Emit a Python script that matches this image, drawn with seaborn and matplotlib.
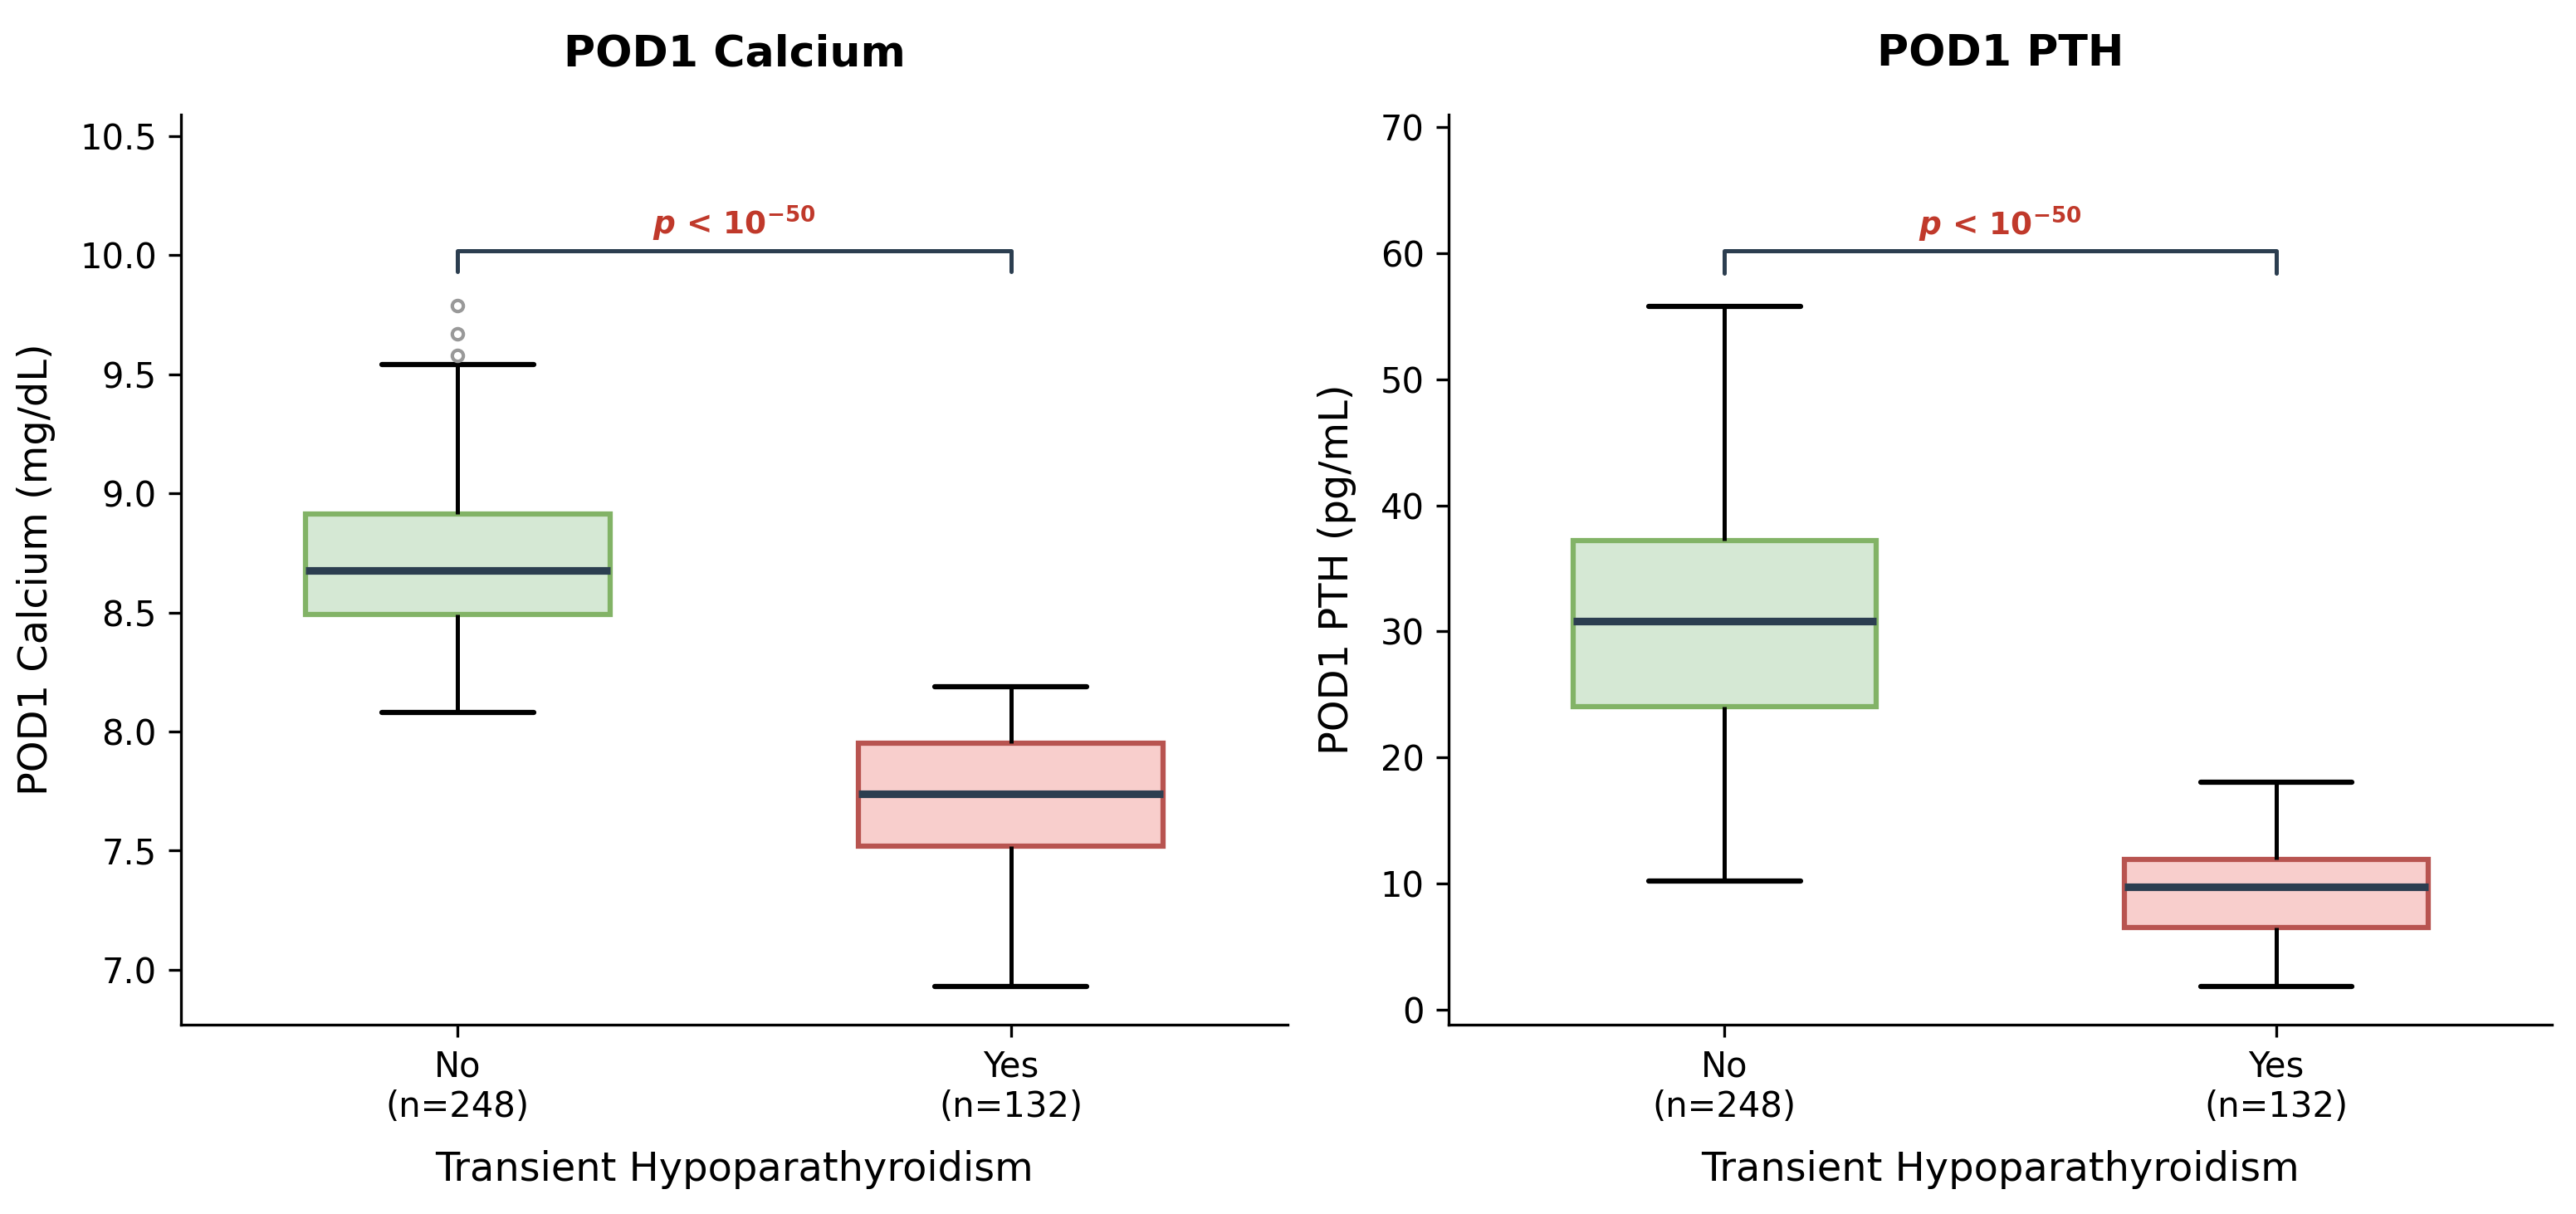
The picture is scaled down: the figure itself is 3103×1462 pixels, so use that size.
import numpy as np
import pandas as pd
import matplotlib.pyplot as plt
import seaborn as sns

sns.set_style("ticks")
plt.rcParams['font.family'] = ['DejaVu Sans']
plt.rcParams.update({
    'text.color': 'black', 'axes.labelcolor': 'black', 'axes.edgecolor': 'black',
    'xtick.color': 'black', 'ytick.color': 'black',
    'axes.linewidth': 0.8, 'xtick.major.size': 3.5, 'ytick.major.size': 3.5,
    'xtick.major.width': 0.8, 'ytick.major.width': 0.8,
    'xtick.major.pad': 3.5, 'ytick.major.pad': 3.5,
})

    #Groups and colours
groups = ["No", "Yes"]
group_n = [248, 132]
box_fill = ["#d5e8d4", "#f8cecc"]
box_edge = ["#82b366", "#b85450"]

    #POD1 Calcium (mg/dL) - box summary
ca_low = [8.08, 6.93]
ca_q1 = [8.49, 7.52]
ca_med = [8.675, 7.74]
ca_q3 = [8.915, 7.95]
ca_high = [9.54, 8.19]
ca_fliers = [[9.58, 9.67, 9.79], []]

    #POD1 PTH (pg/mL)
pth_low = [10.2, 1.8]
pth_q1 = [24.0, 6.5]
pth_med = [30.8, 9.7]
pth_q3 = [37.2, 11.9]
pth_high = [55.8, 18.0]
pth_fliers = [[], []]

p_text = r'$\mathbfit{p}$ < $\mathbf{10^{-50}}$'


    #Function to turn a box summary into values whose quartiles land exactly on it
def box_values(low, q1, med, q3, high, fliers, reps=8):
    rows = []
    for g, lo, a, m, b, hi, fl in zip(groups, low, q1, med, q3, high, fliers):
        vals = [lo] + [a] * reps + [m] * reps + [b] * reps + [hi] + list(fl)
        rows += [(g, v) for v in vals]
    return pd.DataFrame(rows, columns=["group", "value"])


panels = [
    dict(df=box_values(ca_low, ca_q1, ca_med, ca_q3, ca_high, ca_fliers),
         title="POD1 Calcium", ylabel="POD1 Calcium (mg/dL)",
         ylim=(6.77, 10.59), yticks=np.arange(7.0, 10.51, 0.5),
         bracket=10.02, drop=0.09),
    dict(df=box_values(pth_low, pth_q1, pth_med, pth_q3, pth_high, pth_fliers),
         title="POD1 PTH", ylabel="POD1 PTH (pg/mL)",
         ylim=(-1.2, 71.0), yticks=np.arange(0, 71, 10),
         bracket=60.2, drop=1.8),
]

fig = plt.figure(figsize=(3104 / 300, 1462 / 300), dpi=300)
axes = [fig.add_axes([0.0702, 0.156, 0.4295, 0.7496]),
        fig.add_axes([0.5622, 0.156, 0.4282, 0.7496])]

for ax, p in zip(axes, panels):
    sns.boxplot(data=p["df"], x="group", y="value", hue="group",
                order=groups, hue_order=groups, palette=box_fill,
                saturation=1, width=0.55, legend=False, whis=1.5, ax=ax,
                linewidth=1.5,
                medianprops=dict(color="#2c3e50", linewidth=2.2),
                whiskerprops=dict(color="black", linewidth=1.2),
                capprops=dict(color="black", linewidth=1.5),
                flierprops=dict(marker="o", markersize=3.2,
                                markerfacecolor="none",
                                markeredgecolor="#999999",
                                markeredgewidth=1.0))
    for patch, col in zip(ax.patches, box_edge):
        patch.set_edgecolor(col)
        patch.set_linewidth(1.5)

    # significance bracket between the two groups
    y, d = p["bracket"], p["drop"]
    ax.plot([0, 0, 1, 1], [y - d, y, y, y - d], color="#2c3e50", lw=1.2)
    ax.annotate(p_text, xy=(0.5, y), xytext=(0, 2), textcoords="offset points",
                ha="center", va="bottom", color="#c0392b", fontsize=9,
                fontweight="bold")

    ax.set_xlim(-0.5, 1.5)
    ax.set_ylim(*p["ylim"])
    ax.set_yticks(p["yticks"])
    ax.set_xticks(range(len(groups)))
    ax.set_xticklabels([f"{g}\n(n={n})" for g, n in zip(groups, group_n)])
    ax.tick_params(labelsize=10)
    ax.set_title(p["title"], fontsize=12.5, fontweight="bold", pad=14)
    ax.set_ylabel(p["ylabel"], fontsize=11.5, labelpad=7)
    ax.set_xlabel("Transient Hypoparathyroidism", fontsize=11.5, labelpad=7.5)
    sns.despine(ax=ax)

fig.savefig("out.png", dpi=300)
